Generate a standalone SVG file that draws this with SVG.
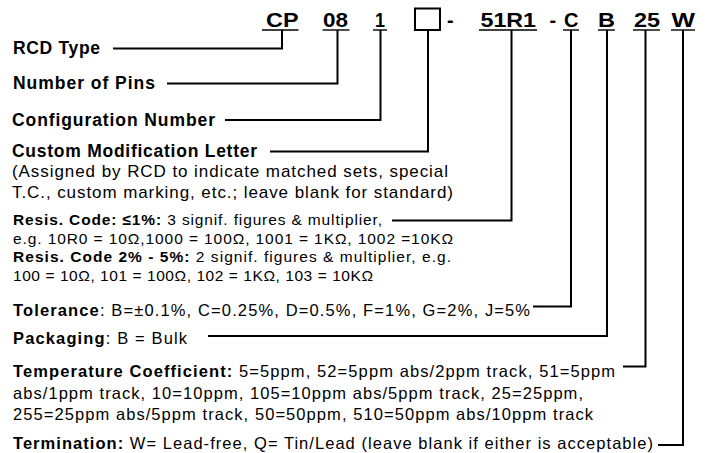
<svg xmlns="http://www.w3.org/2000/svg" width="707" height="453" viewBox="0 0 707 453">
<style>
text{font-family:"Liberation Sans",Arial,sans-serif;fill:#000}
.code{font-size:20px;font-weight:bold}
.lbl{font-size:17.5px;font-weight:bold}
.desc{font-size:17px}
.rs{font-size:15.5px}
.lo{font-size:16.5px}
.b{font-weight:bold}
.ul{stroke:#000;stroke-width:1.4;fill:none}
.cn{stroke:#000;stroke-width:2;fill:none}
</style>
<rect width="707" height="453" fill="#fff"/>
<g id="codes">
<g id="code-cp"><text class="code" x="266" y="27" textLength="32.5" lengthAdjust="spacingAndGlyphs">CP</text><line class="ul" x1="262" y1="30" x2="298.5" y2="30"/></g>
<g id="code-08"><text class="code" x="323" y="27" textLength="25" lengthAdjust="spacingAndGlyphs">08</text><line class="ul" x1="322.5" y1="30" x2="349.5" y2="30"/></g>
<g id="code-1"><text class="code" x="375" y="27" textLength="10" lengthAdjust="spacingAndGlyphs">1</text><line class="ul" x1="373" y1="30" x2="387" y2="30"/></g>
<g id="code-box"><rect x="415" y="8.5" width="25" height="21.5" fill="none" stroke="#000" stroke-width="2"/></g>
<text class="code" x="447" y="27">-</text>
<g id="code-51r1"><text class="code" x="480.5" y="27" textLength="55.5" lengthAdjust="spacingAndGlyphs">51R1</text><line class="ul" x1="479" y1="30" x2="537" y2="30"/></g>
<text class="code" x="549.5" y="27">-</text>
<g id="code-c"><text class="code" x="564" y="27" textLength="14.5" lengthAdjust="spacingAndGlyphs">C</text><line class="ul" x1="563" y1="30" x2="579" y2="30"/></g>
<g id="code-b"><text class="code" x="598" y="27" textLength="17" lengthAdjust="spacingAndGlyphs">B</text><line class="ul" x1="598" y1="30" x2="615" y2="30"/></g>
<g id="code-25"><text class="code" x="634" y="27" textLength="26" lengthAdjust="spacingAndGlyphs">25</text><line class="ul" x1="633" y1="30" x2="660" y2="30"/></g>
<g id="code-w"><text class="code" x="671.5" y="27" textLength="23.5" lengthAdjust="spacingAndGlyphs">W</text><line class="ul" x1="671" y1="30" x2="695" y2="30"/></g>
</g>
<g id="connectors">
<path class="cn" d="M282 30V48.5H113"/>
<path class="cn" d="M337.5 30V83.5H167"/>
<path class="cn" d="M380.5 30V120H225"/>
<path class="cn" d="M428 30V151.5H270"/>
<path class="cn" d="M511.5 30V220.5H392"/>
<path class="cn" d="M571 30V306.5H533"/>
<path class="cn" d="M607 30V336H208"/>
<path class="cn" d="M645.5 30V366.5H623"/>
<path class="cn" d="M683 30V445H658"/>
</g>
<g id="rcd-type"><text class="lbl" x="13" y="54" textLength="87">RCD Type</text></g>
<g id="number-of-pins"><text class="lbl" x="13" y="89" textLength="142">Number of Pins</text></g>
<g id="configuration-number"><text class="lbl" x="12" y="125.5" textLength="203">Configuration Number</text></g>
<g id="custom-modification">
<text class="lbl" x="12" y="157" textLength="245">Custom Modification Letter</text>
<text class="desc" x="12" y="176.5" textLength="436">(Assigned by RCD to indicate matched sets, special</text>
<text class="desc" x="12" y="197.5" textLength="441">T.C., custom marking, etc.; leave blank for standard)</text>
</g>
<g id="resis-code">
<text class="rs" x="13" y="225" textLength="369"><tspan class="b">Resis. Code: ≤1%:</tspan> 3 signif. figures &amp; multiplier,</text>
<text class="rs" x="13" y="243.5" textLength="440">e.g.  10R0 = 10Ω,1000 = 100Ω, 1001 = 1KΩ, 1002 =10KΩ</text>
<text class="rs" x="13" y="262" textLength="438"><tspan class="b">Resis. Code 2% - 5%:</tspan>  2 signif. figures &amp; multiplier, e.g.</text>
<text class="rs" x="13" y="281" textLength="360">100 = 10Ω, 101 = 100Ω, 102 = 1KΩ, 103 = 10KΩ</text>
</g>
<g id="tolerance"><text class="lo" x="13" y="316" textLength="517"><tspan class="b">Tolerance</tspan>: B=±0.1%, C=0.25%, D=0.5%, F=1%, G=2%, J=5%</text></g>
<g id="packaging"><text class="lo" x="13" y="344" textLength="174"><tspan class="b">Packaging</tspan>: B = Bulk</text></g>
<g id="temperature-coefficient">
<text class="lo" x="13" y="377" textLength="602"><tspan class="b">Temperature Coefficient:</tspan> 5=5ppm, 52=5ppm abs/2ppm track, 51=5ppm</text>
<text class="lo" x="13" y="398.5" textLength="570">abs/1ppm track, 10=10ppm, 105=10ppm abs/5ppm track, 25=25ppm,</text>
<text class="lo" x="13" y="420" textLength="580">255=25ppm abs/5ppm track, 50=50ppm, 510=50ppm abs/10ppm track</text>
</g>
<g id="termination"><text class="lo" x="13" y="449" textLength="640"><tspan class="b">Termination:</tspan> W= Lead-free, Q= Tin/Lead (leave blank if either is acceptable)</text></g>
</svg>
